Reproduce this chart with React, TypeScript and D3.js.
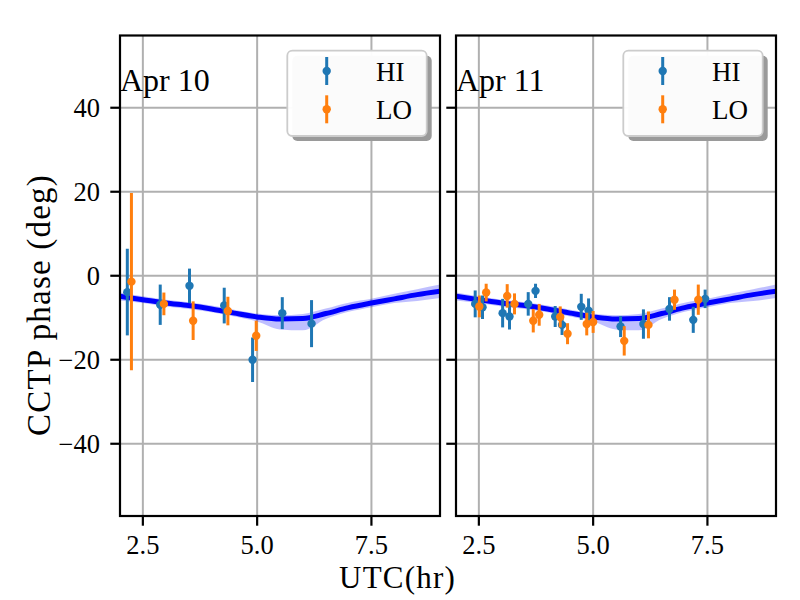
import * as d3 from "d3";

// model fit (same curve drawn in both panels)
const FIT_X = [2, 2.5, 3, 3.5, 4, 4.5, 5, 5.5, 6, 6.5, 7, 7.5, 8, 8.5, 9];
const FIT_MID = [-4.9, -5.7, -6.5, -7.1, -7.9, -8.9, -9.8, -10.3, -10.2, -9.0, -7.6, -6.5, -5.5, -4.5, -3.7];
const FIT_LO = [-5.9, -6.5, -7.3, -7.9, -8.7, -9.7, -10.9, -12.8, -13.0, -10.3, -8.6, -7.5, -6.5, -6.0, -5.3];
const FIT_HI = [-4.0, -4.9, -5.7, -6.3, -7.1, -8.1, -9.0, -9.4, -9.1, -7.8, -6.4, -5.5, -4.3, -3.2, -2.1];

// Apr 10
const APR10_HI_X = [2.16, 2.88, 3.52, 4.28, 4.9, 5.55, 6.19];
const APR10_HI_Y = [-3.9, -6.9, -2.4, -7.1, -20, -8.9, -11.4];
const APR10_HI_ERR = [10.3, 4.8, 4.1, 4.25, 5.3, 3.8, 5.6];
const APR10_LO_X = [2.25, 2.96, 3.6, 4.36, 4.98];
const APR10_LO_Y = [-1.4, -6.7, -10.7, -8.4, -14.3];
const APR10_LO_ERR = [21.1, 2.7, 4.6, 3.4, 3.6];

// Apr 11
const APR11_HI_X = [2.42, 2.58, 3.02, 3.17, 3.58, 3.74, 4.17, 4.32, 4.74, 4.9, 5.6, 6.1, 6.67, 7.19, 7.45];
const APR11_HI_Y = [-6.7, -7.5, -8.9, -9.7, -6.7, -3.6, -9.7, -11.7, -7.4, -8.3, -12.1, -11.5, -7.9, -10.5, -5.5];
const APR11_HI_ERR = [3.2, 2.8, 3.4, 3.1, 2.8, 1.7, 2.5, 2.4, 3.1, 2.9, 2.5, 3.5, 2.8, 3.1, 2.2];
const APR11_LO_X = [2.51, 2.66, 3.12, 3.28, 3.69, 3.82, 4.28, 4.44, 4.86, 5.0, 5.68, 6.21, 6.78, 7.3];
const APR11_LO_Y = [-7.3, -4.0, -4.8, -6.7, -10.7, -9.3, -9.8, -13.8, -11.5, -11.0, -15.5, -11.7, -5.7, -5.7];
const APR11_LO_ERR = [2.6, 2.1, 2.8, 2.5, 2.8, 2.6, 2.5, 2.5, 2.7, 2.6, 3.5, 3.2, 2.4, 3.6];

const X_TICKS = [2.5, 5.0, 7.5];
const Y_TICKS = [-40, -20, 0, 20, 40];
const SERIES_NAMES = ["HI", "LO"];
const SERIES_COLORS = ["#1f77b4", "#ff7f0e"];

const FONT = "'Liberation Serif', 'Times New Roman', serif";

const panels = [
  {
    title: "Apr 10",
    left: 120,
    showYLabels: true,
    series: [
      { x: APR10_HI_X, y: APR10_HI_Y, err: APR10_HI_ERR },
      { x: APR10_LO_X, y: APR10_LO_Y, err: APR10_LO_ERR },
    ],
  },
  {
    title: "Apr 11",
    left: 456,
    showYLabels: false,
    series: [
      { x: APR11_HI_X, y: APR11_HI_Y, err: APR11_HI_ERR },
      { x: APR11_LO_X, y: APR11_LO_Y, err: APR11_LO_ERR },
    ],
  },
];

const panelW = 320;
const top = 35.5;
const bottom = 516;

const fmt = (d: number) => (d < 0 ? "\u2212" + Math.abs(d) : String(d));

function Panel({ p }: { p: (typeof panels)[number] }) {
  const x = d3.scaleLinear().domain([2, 9]).range([p.left, p.left + panelW]);
  const y = d3.scaleLinear().domain([-57.2, 57.2]).range([bottom, top]);
  const clipId = `clip-${p.left}`;

  const fit = FIT_X.map((v, i) => ({ x: v, m: FIT_MID[i], lo: FIT_LO[i], hi: FIT_HI[i] }));
  const area = d3
    .area<any>()
    .x((d) => x(d.x))
    .y0((d) => y(d.lo))
    .y1((d) => y(d.hi))
    .curve(d3.curveMonotoneX);
  const line = d3
    .line<any>()
    .x((d) => x(d.x))
    .y((d) => y(d.m))
    .curve(d3.curveMonotoneX);

  // legend box
  const bx = p.left + panelW - 13.3 - 139.4;
  const by = top + 15.2;

  return (
    <g>
      <defs>
        <clipPath id={clipId}>
          <rect x={p.left} y={top} width={panelW} height={bottom - top} />
        </clipPath>
      </defs>
      {/* grid */}
      {X_TICKS.map((t) => (
        <line key={"gx" + t} x1={x(t)} x2={x(t)} y1={top} y2={bottom} stroke="#b0b0b0" strokeWidth={2} />
      ))}
      {Y_TICKS.map((t) => (
        <line key={"gy" + t} x1={p.left} x2={p.left + panelW} y1={y(t)} y2={y(t)} stroke="#b0b0b0" strokeWidth={2} />
      ))}

      <g clipPath={`url(#${clipId})`}>
        <path d={area(fit) || ""} fill="#0000ff" fillOpacity={0.25} />
        <path d={line(fit) || ""} fill="none" stroke="#0000ff" strokeWidth={5} />
        {p.series.map((s, si) =>
          s.x.map((xv, i) => (
            <g key={`${si}-${i}`}>
              <line
                x1={x(xv)}
                x2={x(xv)}
                y1={y(s.y[i] - s.err[i])}
                y2={y(s.y[i] + s.err[i])}
                stroke={SERIES_COLORS[si]}
                strokeWidth={3}
              />
              <circle cx={x(xv)} cy={y(s.y[i])} r={4.2} fill={SERIES_COLORS[si]} />
            </g>
          ))
        )}
      </g>

      {/* title */}
      <text x={p.left} y={90.5} fontFamily={FONT} fontSize={32}>
        {p.title}
      </text>

      {/* legend */}
      <rect x={bx + 5} y={by + 5} width={139.4} height={85.3} rx={5} fill="#9a9a9a" />
      <rect x={bx} y={by} width={139.4} height={85.3} rx={5} fill="#ffffff" fillOpacity={0.96} stroke="#cccccc" strokeWidth={1.8} />
      {SERIES_NAMES.map((n, i) => {
        const cy = by + 20.3 + i * 38.3;
        return (
          <g key={n}>
            <line x1={bx + 39.4} x2={bx + 39.4} y1={cy - 14} y2={cy + 14} stroke={SERIES_COLORS[i]} strokeWidth={3} />
            <circle cx={bx + 39.4} cy={cy} r={4.2} fill={SERIES_COLORS[i]} />
            <text x={bx + 88.7} y={cy + 9.5} fontFamily={FONT} fontSize={27}>
              {n}
            </text>
          </g>
        );
      })}

      {/* frame */}
      <rect x={p.left} y={top} width={panelW} height={bottom - top} fill="none" stroke="#000" strokeWidth={2.2} />

      {/* ticks */}
      {X_TICKS.map((t) => (
        <g key={"tx" + t}>
          <line x1={x(t)} x2={x(t)} y1={bottom} y2={bottom + 9.7} stroke="#000" strokeWidth={2.2} />
          <text x={x(t)} y={554} textAnchor="middle" fontFamily={FONT} fontSize={26.5}>
            {t.toFixed(1)}
          </text>
        </g>
      ))}
      {Y_TICKS.map((t) => (
        <g key={"ty" + t}>
          <line x1={p.left - 9.7} x2={p.left} y1={y(t)} y2={y(t)} stroke="#000" strokeWidth={2.2} />
          {p.showYLabels && (
            <text x={100} y={y(t) + 9} textAnchor="end" fontFamily={FONT} fontSize={26.5}>
              {fmt(t)}
            </text>
          )}
        </g>
      ))}
    </g>
  );
}

export default function App() {
  return (
    <svg
      width={800}
      height={600}
      style={{ position: "absolute", left: 0, top: 0, background: "#fff" }}
    >
      <rect x={0} y={0} width={800} height={600} fill="#fff" />
      {panels.map((p) => (
        <Panel key={p.title} p={p} />
      ))}
      <text
        transform="translate(50,305) rotate(-90)"
        textAnchor="middle"
        fontFamily={FONT}
        fontSize={33}
        letterSpacing={1.2}
      >
        CCTP phase (deg)
      </text>
      <text x={397.5} y={588} textAnchor="middle" fontFamily={FONT} fontSize={31} letterSpacing={1.2}>
        UTC(hr)
      </text>
    </svg>
  );
}
